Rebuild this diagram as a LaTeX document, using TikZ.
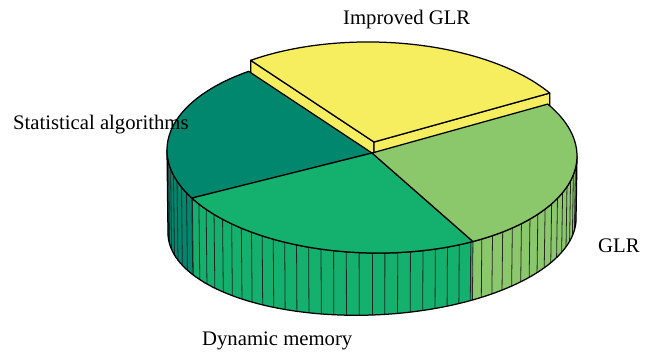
\documentclass[tikz,border=0pt]{standalone}
\usepackage{fontspec}
\setmainfont{Liberation Serif}
\definecolor{cyel}{RGB}{246,238,95}
\definecolor{clg}{RGB}{138,200,107}
\definecolor{cmg}{RGB}{20,176,110}
\definecolor{cdt}{RGB}{0,135,110}
\begin{document}
\begin{tikzpicture}[x=1bp,y=-1bp,line join=round,
  declare function={tx(\t)=372+205*cos(\t); ty(\t)=153-100*sin(\t)+3*cos(\t);
                    bx(\t)=372+204*cos(\t); by(\t)=226-89*sin(\t)-7*cos(\t);},
  edge/.style={draw=black,line width=1.25bp},
  stripe/.style={draw=black!85,line width=0.8bp},
  lbl/.style={anchor=base west,inner sep=0pt,font=\fontsize{20.7bp}{24bp}\selectfont}]
\useasboundingbox (0,0) rectangle (659,353);
% exploded yellow wedge
\begin{scope}[shift={(2,-11)}]
  \filldraw[edge,fill=cyel] (372,153) -- ({tx(127)},{ty(127)}) -- ++(0,64) -- (372,217) -- cycle;
  \filldraw[edge,fill=cyel] (372,153) -- ({tx(31)},{ty(31)}) -- ++(0,64) -- (372,217) -- cycle;
  \filldraw[edge,fill=cyel] (372,153) -- plot[domain=31:127,samples=60] ({tx(\x)},{ty(\x)}) -- cycle;
\end{scope}
% sides
\fill[cdt] plot[domain=180:208.5,samples=30] ({tx(\x)},{ty(\x)}) -- plot[domain=208.5:180,samples=30] ({bx(\x)},{by(\x)}) -- cycle;
\fill[cmg] plot[domain=208.5:299.5,samples=60] ({tx(\x)},{ty(\x)}) -- plot[domain=299.5:208.5,samples=60] ({bx(\x)},{by(\x)}) -- cycle;
\fill[clg] plot[domain=299.5:360,samples=40] ({tx(\x)},{ty(\x)}) -- plot[domain=360:299.5,samples=40] ({bx(\x)},{by(\x)}) -- cycle;
\foreach \t in {183.6,187.2,...,358}{
  \draw[stripe] ({tx(\t)},{ty(\t)}) -- ({bx(\t)},{by(\t)});
}
\draw[stripe] ({tx(208.5)},{ty(208.5)}) -- ({bx(208.5)},{by(208.5)});
\draw[stripe] ({tx(299.5)},{ty(299.5)}) -- ({bx(299.5)},{by(299.5)});
\draw[edge] plot[domain=180:360,samples=90] ({tx(\x)},{ty(\x)}) -- plot[domain=360:180,samples=90] ({bx(\x)},{by(\x)}) -- cycle;
% tops
\filldraw[edge,fill=cdt] (372,153) -- plot[domain=127:208.5,samples=50] ({tx(\x)},{ty(\x)}) -- cycle;
\filldraw[edge,fill=cmg] (372,153) -- plot[domain=208.5:299.5,samples=50] ({tx(\x)},{ty(\x)}) -- cycle;
\filldraw[edge,fill=clg] (372,153) -- plot[domain=299.5:391,samples=50] ({tx(\x)},{ty(\x)}) -- cycle;
% labels
\node[lbl] (ig) at (343,24) {Improved GLR};
\node[lbl] (sa) at (13,129) {Statistical algorithms};
\node[lbl] (glr) at (598,252) {GLR};
\node[lbl] (dm) at (202,345) {Dynamic memory};
\end{tikzpicture}
\end{document}
